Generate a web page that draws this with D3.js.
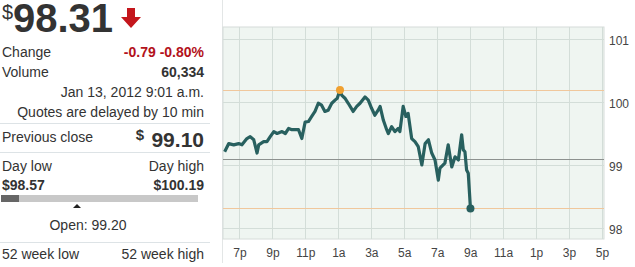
<!DOCTYPE html>
<html><head><meta charset="utf-8">
<script src="https://cdn.jsdelivr.net/npm/d3@7"></script>
<style>
body{margin:0;background:#fff;}
svg{display:block;font-family:Arial,"Liberation Sans",sans-serif;}
</style></head><body>
<svg id="c" width="635" height="267"></svg>
<script>
// ---- data ----
const times = ["18:06","18:21","18:39","18:57","19:09","19:27","19:39","19:52","20:04","20:10","20:28","20:40","20:52","21:05","21:17","21:35","21:47","21:59","22:11","22:23","22:35","22:47","22:59","23:11","23:23","23:35","23:47","23:59","00:11","00:23","00:36","00:48","00:56","01:06","01:12","01:24","01:36","01:54","02:07","02:19","02:37","02:49","03:01","03:13","03:25","03:32","03:44","03:56","04:02","04:14","04:26","04:38","04:44","04:56","05:06","05:14","05:27","05:39","05:51","06:04","06:16","06:28","06:40","06:52","07:04","07:10","07:28","07:40","07:53","08:05","08:17","08:29","08:35","08:41","08:47","08:53","09:01"];
const prices = [99.21,99.34,99.32,99.34,99.32,99.42,99.45,99.40,99.19,99.32,99.37,99.37,99.45,99.53,99.50,99.53,99.50,99.58,99.56,99.56,99.56,99.42,99.68,99.69,99.77,99.85,99.98,99.95,99.85,99.87,99.98,100.03,100.06,100.19,100.11,100.06,99.98,99.85,99.93,99.98,100.08,100.03,99.90,99.79,99.87,99.93,99.71,99.56,99.50,99.61,99.53,99.58,99.53,99.93,99.77,99.82,99.42,99.37,99.29,99.00,99.34,99.40,99.19,99.08,98.76,98.95,99.03,99.32,98.97,99.13,99.08,99.48,99.24,99.21,98.92,98.87,98.31];
const xTickLabels = ["7p","9p","11p","1a","3a","5a","7a","9a","11a","1p","3p","5p"];
const yTicks = [98,99,100,101];
const prevClose = 99.10;
const dayHigh = 100.19;
const lastPrice = 98.31;

const parse = s => { const [h,m]=s.split(":").map(Number); return new Date(2012,0,h>=18?12:13,h,m); };
const data = times.map((t,i)=>({t:parse(t), v:prices[i]}));

const svg = d3.select("#c");

// ---- left panel ----
const L = svg.append("g");
const txt = (x,y,s,o={}) => L.append("text").attr("x",x).attr("y",y).text(s)
  .attr("font-size",o.fs||14).attr("fill",o.fill||"#333").attr("font-weight",o.fw||"normal")
  .attr("text-anchor",o.a||"start");
txt(2,19,"$",{fs:20,fill:"#333"});
txt(13,32,"98.31",{fs:40,fw:"bold",fill:"#333"});
// red down arrow
L.append("path").attr("d","M127,8 L135,8 L135,17 L141,17 L131,28 L121,17 L127,17 Z").attr("fill","#c4161c");
txt(2,57,"Change");
txt(204,57,"-0.79 -0.80%",{fw:"bold",fill:"#b3121b",a:"end"});
txt(2,77,"Volume");
txt(204,77,"60,334",{fw:"bold",a:"end"});
txt(204,97,"Jan 13, 2012 9:01 a.m.",{a:"end"});
txt(204,117,"Quotes are delayed by 10 min",{a:"end"});
L.append("line").attr("x1",0).attr("x2",210).attr("y1",123.5).attr("y2",123.5).attr("stroke","#dde3e6");
txt(2,142,"Previous close");
txt(144,140,"$",{fs:15,fw:"bold",a:"end"});
txt(204,147,"99.10",{fs:21,fw:"bold",a:"end"});
L.append("line").attr("x1",0).attr("x2",210).attr("y1",152.5).attr("y2",152.5).attr("stroke","#dde3e6");
txt(2,171,"Day low");
txt(204,171,"Day high",{a:"end"});
txt(2,190,"$98.57",{fw:"bold"});
txt(204,190,"$100.19",{fw:"bold",a:"end"});
L.append("rect").attr("x",1).attr("y",195).attr("width",197).attr("height",7).attr("fill","#c8c8c8");
L.append("rect").attr("x",1).attr("y",195).attr("width",18).attr("height",7).attr("fill","#666");
L.append("path").attr("d","M73,208 L77,204 L81,208 Z").attr("fill","#222");
txt(88,230,"Open: 99.20",{a:"middle"});
L.append("line").attr("x1",0).attr("x2",210).attr("y1",242.5).attr("y2",242.5).attr("stroke","#dde3e6");
txt(2,259,"52 week low");
txt(204,259,"52 week high",{a:"end"});

// ---- chart ----
svg.append("line").attr("x1",222.5).attr("x2",222.5).attr("y1",0).attr("y2",263).attr("stroke","#e3e6e6");

const x = d3.scaleTime().domain([new Date(2012,0,12,18,0), new Date(2012,0,13,17,0)]).range([223,602]);
const y = d3.scaleLinear().domain([98,101]).range([228,39]);
const pTop = 27, pBot = 239, pLeft = 223, pRight = 604;

svg.append("rect").attr("x",pLeft).attr("y",pTop).attr("width",pRight-pLeft).attr("height",pBot-pTop)
  .attr("fill","#eff5f1").attr("stroke","#d6dcd9");

const xTickDates = xTickLabels.map((s,i)=> d3.timeHour.offset(new Date(2012,0,12,19,0), i*2));
svg.append("g").selectAll("line").data(xTickDates).join("line")
  .attr("x1",d=>Math.round(x(d))+0.5).attr("x2",d=>Math.round(x(d))+0.5).attr("y1",pTop).attr("y2",pBot)
  .attr("stroke","#d3ddd8");
svg.append("g").selectAll("line").data(yTicks).join("line")
  .attr("x1",pLeft).attr("x2",pRight).attr("y1",d=>Math.round(y(d))+0.5).attr("y2",d=>Math.round(y(d))+0.5)
  .attr("stroke","#d3ddd8");

// reference lines
const hline = (v,c) => svg.append("line").attr("x1",pLeft).attr("x2",pRight)
  .attr("y1",Math.round(y(v))+0.5).attr("y2",Math.round(y(v))+0.5).attr("stroke",c);
hline(prevClose,"#8d918f");
hline(dayHigh,"#f0c79c");
hline(lastPrice,"#f0c79c");

// line
svg.append("path").datum(data)
  .attr("d", d3.line().x(d=>x(d.t)).y(d=>y(d.v)))
  .attr("fill","none").attr("stroke","#28605f").attr("stroke-width",3.2).attr("stroke-linejoin","round");

const hi = data.reduce((a,b)=>b.v>a.v?b:a);
svg.append("circle").attr("cx",x(hi.t)).attr("cy",y(hi.v)).attr("r",4).attr("fill","#f0a030");
const last = data[data.length-1];
svg.append("circle").attr("cx",x(last.t)).attr("cy",y(last.v)).attr("r",4).attr("fill","#28605f");

// axes
const xa = svg.append("g").attr("transform",`translate(0,${pBot})`)
  .call(d3.axisBottom(x).tickValues(xTickDates).tickFormat((d,i)=>xTickLabels[i]).tickSize(0).tickPadding(9));
xa.select(".domain").remove();
xa.selectAll("text").attr("font-size",12).attr("fill","#444").attr("font-family","Arial,'Liberation Sans',sans-serif");

const ya = svg.append("g").attr("transform",`translate(${pRight},0)`)
  .call(d3.axisRight(y).tickValues(yTicks).tickFormat(d3.format("d")).tickSize(0).tickPadding(5));
ya.select(".domain").remove();
ya.selectAll("text").attr("font-size",12).attr("fill","#444").attr("dy","0.45em").attr("font-family","Arial,'Liberation Sans',sans-serif");
</script>
</body></html>
